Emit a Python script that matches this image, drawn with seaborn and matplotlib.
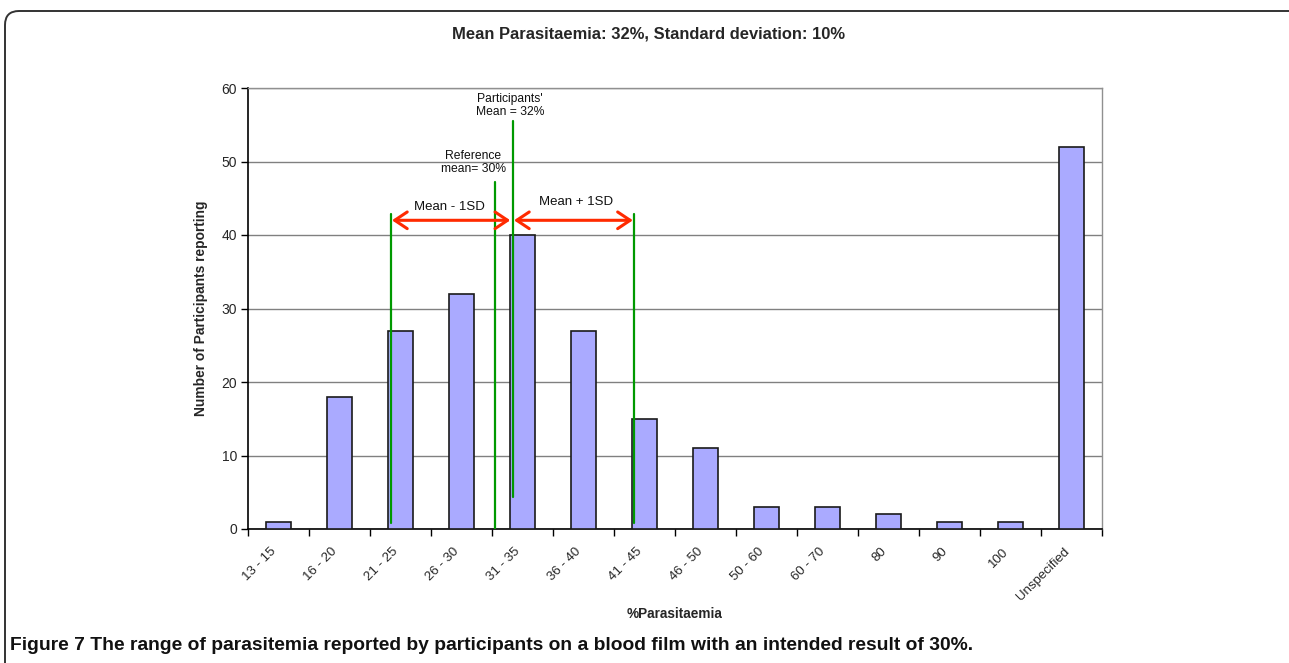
import matplotlib
matplotlib.use("Agg")
import matplotlib.pyplot as plt
import seaborn as sns
import pandas as pd
from matplotlib.patches import FancyBboxPatch, FancyArrowPatch
from matplotlib.transforms import IdentityTransform

categories = ["13 - 15", "16 - 20", "21 - 25", "26 - 30", "31 - 35", "36 - 40", "41 - 45",
              "46 - 50", "50 - 60", "60 - 70", "80", "90", "100", "Unspecified"]
counts = [1, 18, 27, 32, 40, 27, 15, 11, 3, 3, 2, 1, 1, 52]
yticks = [0, 10, 20, 30, 40, 50, 60]

title = "Mean Parasitaemia: 32%, Standard deviation: 10%"
xlabel = "%Parasitaemia"
ylabel = "Number of Participants reporting"
caption = "Figure 7 The range of parasitemia reported by participants on a blood film with an intended result of 30%."

sns.set_theme(style="white")
plt.rcParams['font.family'] = ['Liberation Sans', 'DejaVu Sans']

df = pd.DataFrame({"cat": categories, "n": counts})

fig = plt.figure(figsize=(12.89, 6.63), dpi=100)
ax = fig.add_axes([248/1289, 1-529/663, (1102-248)/1289, (529-88)/663])

sns.barplot(data=df, x="cat", y="n", ax=ax, color="#aaaaff", saturation=1,
            width=0.4, edgecolor="#1a1a1a", linewidth=1.2, zorder=3)

ax.set_xlim(-0.5, len(categories) - 0.5)
ax.set_ylim(0, 60)
ax.set_yticks(yticks)
ax.yaxis.grid(True, color="#808080", linewidth=1, zorder=0)
ax.xaxis.grid(False)
for s in ["left", "bottom"]:
    ax.spines[s].set_color("black")
    ax.spines[s].set_linewidth(1.2)
for s in ["right", "top"]:
    ax.spines[s].set_color("#909090")
    ax.spines[s].set_linewidth(1)

ax.set_xticks([i - 0.5 for i in range(len(categories) + 1)])
ax.set_xticklabels([])
ax.set_xticks(range(len(categories)), minor=True)
ax.set_xticklabels(categories, minor=True, rotation=45, ha="right", va="bottom",
                   rotation_mode="anchor", fontsize=9.5)
ax.tick_params(axis="x", which="major", length=5, width=1, color="black", direction="out", bottom=True)
ax.tick_params(axis="x", which="minor", length=0, pad=18, bottom=True)
ax.tick_params(axis="y", length=5, width=1, color="black", direction="out", left=True, labelsize=10, pad=3)

ax.set_xlabel(xlabel, fontsize=9.8, fontweight="bold")
ax.xaxis.set_label_coords(0.5, (529-614)/441)
ax.xaxis.label.set_va("center")
ax.set_ylabel(ylabel, fontsize=9.9, fontweight="bold")
ax.yaxis.set_label_coords((201-248)/854, 0.5)
ax.yaxis.label.set_va("center")

green = "#009900"
# vertical marker lines (x in category units, y in counts)
ax.plot([1.844, 1.844], [0.8, 42.8], color=green, lw=1.6, zorder=4)
ax.plot([3.549, 3.549], [0, 47.2], color=green, lw=1.6, zorder=4)
ax.plot([3.84, 3.84], [4.4, 55.5], color=green, lw=1.6, zorder=4)
ax.plot([5.828, 5.828], [0.8, 42.8], color=green, lw=1.6, zorder=4)

red = "#ff2a00"
for (x0, x1) in [(1.86, 3.80), (3.86, 5.81)]:
    ax.add_patch(FancyArrowPatch((x0, 42.0), (x1, 42.0),
                                 arrowstyle="<->,head_length=6,head_width=4",
                                 color=red, lw=2.2, mutation_scale=1.5,
                                 shrinkA=0, shrinkB=0, zorder=5))

ax.text(2.81, 43.85, "Mean - 1SD", ha="center", va="center", fontsize=9.5, color="#111111")
ax.text(4.877, 44.5, "Mean + 1SD", ha="center", va="center", fontsize=9.5, color="#111111")
ax.text(3.19, 49.9, "Reference\nmean= 30%", ha="center", va="center", fontsize=8.7,
        linespacing=1.15, color="#111111")
ax.text(3.795, 57.6, "Participants'\nMean = 32%", ha="center", va="center", fontsize=8.7,
        linespacing=1.15, color="#111111")

fig.text(649/1289, 1-34/663, title, ha="center", va="center", fontsize=11.9, fontweight="bold")

# rounded border
box = FancyBboxPatch((5, -40), 1300, 663 - 11 + 40,
                     boxstyle="round,pad=0,rounding_size=14",
                     transform=IdentityTransform(), facecolor="none",
                     edgecolor="#333333", linewidth=1.4, clip_on=False)
fig.add_artist(box)

fig.text(10/1289, 1-646/663, caption, ha="left", va="center", fontsize=13.9, fontweight="bold",
         family=['Liberation Sans Narrow', 'Liberation Sans', 'DejaVu Sans'], color="#111111")

fig.savefig("out.png", dpi=100)
